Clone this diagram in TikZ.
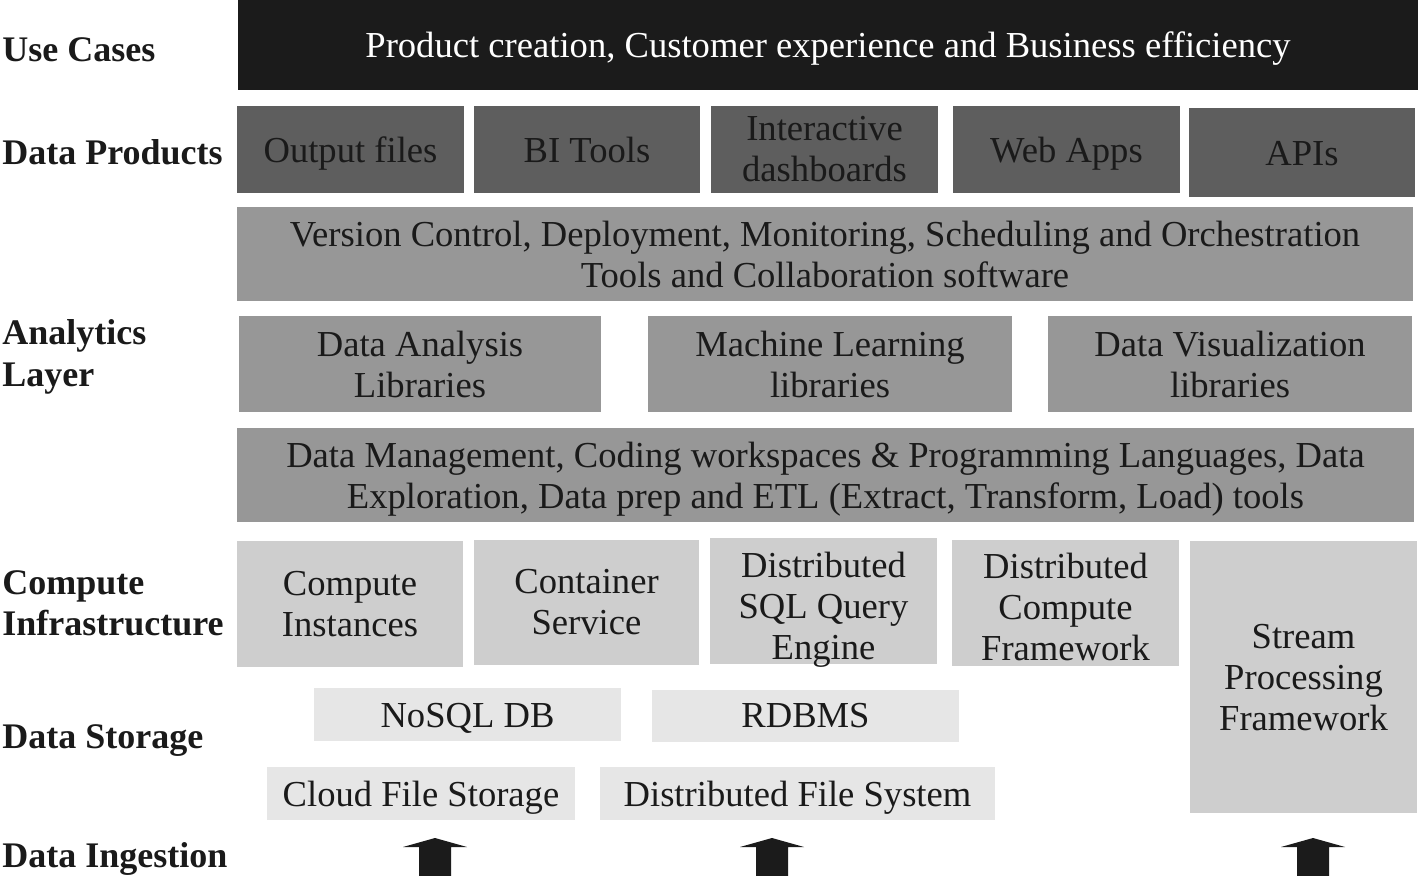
\documentclass[tikz,border=0pt]{standalone}
\usepackage{fontspec}
\setmainfont{Liberation Serif}
\definecolor{cBlack}{HTML}{1B1B1B}
\definecolor{cDark}{HTML}{5E5E5E}
\definecolor{cMid}{HTML}{979797}
\definecolor{cLight}{HTML}{CECECE}
\definecolor{cPale}{HTML}{E6E6E6}
\definecolor{cText}{HTML}{1A1A1A}
\tikzset{
  box/.style={inner sep=0pt, draw=none},
  boxtext/.style={inner sep=0pt, align=center, text=cText, font=\fontsize{18.3}{20.5}\selectfont},
  lab/.style={anchor=base west, inner sep=0pt, align=left, text=cText, font=\fontsize{18}{21}\selectfont\bfseries},
  ingarrow/.style={fill=cBlack, draw=none},
}
% \bx[shift px]{name}{x1}{y1}{x2}{y2}{fill}{text}
\newcommand{\bx}[8][0]{%
  \node[box, fill=#7, minimum width={(#5-#3)*0.5pt}, minimum height={(#6-#4)*0.5pt}]
    (#2) at ({(#3+#5)/2},{(#4+#6)/2}) {};
  \node[boxtext] (#2-t) at ([yshift={-#1*0.5pt}]#2.center) {#8};}
\newcommand{\uparr}[1]{%
  \fill[ingarrow] ({#1-16},876) -- ({#1-16},847) -- ({#1-32},847) -- (#1,838)
    -- ({#1+32},847) -- ({#1+16},847) -- ({#1+16},876) -- cycle;}
\begin{document}
\begin{tikzpicture}[x=0.5pt,y=-0.5pt]
\useasboundingbox (0,0) rectangle (1418,876);
\fill[white] (0,0) rectangle (1418,876);
% left labels
\node[lab] (lUse) at (2,62) {Use Cases};
\node[lab] (lProd) at (2,165) {Data Products};
\node[lab] (lAna1) at (2,345) {Analytics};
\node[lab] (lAna2) at (2,387) {Layer};
\node[lab] (lComp1) at (2,595) {Compute};
\node[lab] (lComp2) at (2,635) {Infrastructure};
\node[lab] (lStor) at (2,748) {Data Storage};
\node[lab] (lIng) at (2,867) {Data Ingestion};
% use cases
\bx[4]{uc}{238}{0}{1418}{90}{cBlack}{\textcolor{white}{Product creation, Customer experience and Business efficiency}}
% data products
\bx[4]{dp1}{237}{106}{464}{193}{cDark}{Output files}
\bx{dp2}{474}{106}{700}{193}{cDark}{BI Tools}
\bx{dp3}{711}{106}{938}{193}{cDark}{Interactive\\dashboards}
\bx[4]{dp4}{953}{106}{1180}{193}{cDark}{Web Apps}
\bx[1]{dp5}{1189}{108}{1415}{197}{cDark}{APIs}
% analytics layer
\bx{vc}{237}{207}{1413}{301}{cMid}{Version Control, Deployment, Monitoring, Scheduling and Orchestration\\Tools and Collaboration software}
\bx{al1}{239}{316}{601}{412}{cMid}{Data Analysis\\Libraries}
\bx{al2}{648}{316}{1012}{412}{cMid}{Machine Learning\\libraries}
\bx{al3}{1048}{316}{1412}{412}{cMid}{Data Visualization\\libraries}
\bx[4]{dm}{237}{428}{1414}{522}{cMid}{Data Management, Coding workspaces \& Programming Languages, Data\\Exploration, Data prep and ETL (Extract, Transform, Load) tools}
% compute
\bx{ci1}{237}{541}{463}{667}{cLight}{Compute\\Instances}
\bx{ci2}{474}{540}{699}{665}{cLight}{Container\\Service}
\bx[9]{ci3}{710}{538}{937}{664}{cLight}{Distributed\\SQL Query\\Engine}
\bx[4]{ci4}{952}{540}{1179}{666}{cLight}{Distributed\\Compute\\Framework}
\bx[1]{ci5}{1190}{541}{1417}{813}{cLight}{Stream\\Processing\\Framework}
% storage
\bx[4]{ds1}{314}{688}{621}{741}{cPale}{NoSQL DB}
\bx{ds2}{652}{690}{959}{742}{cPale}{RDBMS}
\bx[4]{ds3}{267}{767}{575}{820}{cPale}{Cloud File Storage}
\bx[4]{ds4}{600}{767}{995}{820}{cPale}{Distributed File System}
% ingestion arrows
\uparr{435}
\uparr{772}
\uparr{1313}
\end{tikzpicture}
\end{document}
